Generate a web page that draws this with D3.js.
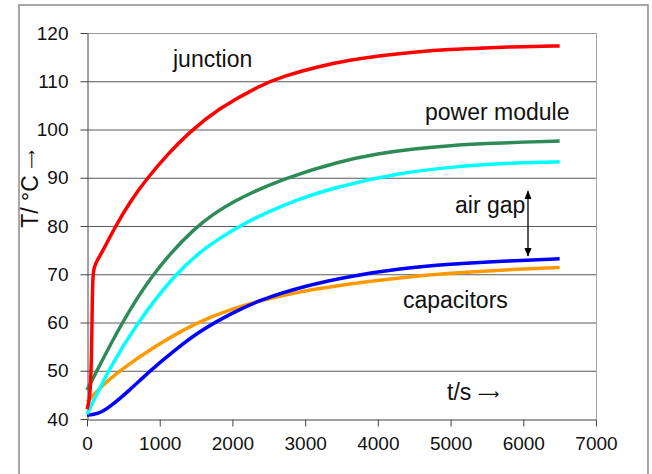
<!DOCTYPE html>
<meta charset="utf-8">
<style>
body { margin: 0; background: #fff; }
svg { font-family: "Liberation Sans", Arial, sans-serif; }
.tick text { font-size: 19px; fill: #111; }
.note { font-size: 23px; fill: #111; }
.arr { font-family: "DejaVu Sans", sans-serif; }
</style>
<body>
<svg width="652" height="474"></svg>
<script src="https://cdn.jsdelivr.net/npm/d3@7"></script>
<script>

// time (s), temperature (°C)
var junction = [[0,42],[40,44],[62,52],[72,64],[80,69.5],[95,71.5],[155,73.3],[224,75],[385,79.8],
  [600,85.2],[821,89.8],[1118,95],[1390,99.2],[1800,104.3],[2400,109.3],[2700,111],[3160,113],
  [3620,114.4],[4070,115.4],[4530,116.1],[4990,116.6],[5450,116.9],[6000,117.2],[6500,117.3]];
var powerModule = [[0,46],[135,50],[480,60],[890,70],[1485,80],[2000,85.2],[2720,90],[3500,93.5],
  [4000,95],[4500,96],[5000,96.7],[5500,97.1],[6000,97.4],[6500,97.6]];
var airGapTop = [[0,41],[100,44],[290,50],[690,60],[1210,70],[1600,75.3],[2080,80],[2700,84.5],
  [3410,88.1],[4300,91],[5000,92.2],[5500,92.8],[6000,93.1],[6500,93.3]];
var capOrange = [[0,43.5],[200,46.8],[450,50],[900,54.8],[1500,60],[2000,62.9],[2500,65],[3000,66.6],
  [3600,68],[4300,69.3],[5000,70.2],[5500,70.7],[6000,71.1],[6500,71.4]];
var capBlue = [[0,40.8],[150,41],[316,42.5],[590,46],[866,50],[1200,54.2],[1555,58.3],[2000,62],
  [2380,64.7],[3000,67.6],[3620,69.6],[4300,71.2],[5000,72.1],[5700,72.7],[6500,73.2]];

var seriesList = [capOrange, capBlue, airGapTop, powerModule, junction];
var seriesColors = ["#ff9900", "#0000ff", "#00ffff", "#2e8b57", "#ff0000"];

var xTicks = [0, 1000, 2000, 3000, 4000, 5000, 6000, 7000];
var yTicks = [40, 50, 60, 70, 80, 90, 100, 110, 120];

var svg = d3.select("svg");

var x = d3.scaleLinear().domain([0, 7000]).range([87, 596]);
var y = d3.scaleLinear().domain([40, 120]).range([419, 33]);

// outer frame
svg.append("rect")
    .attr("x", 19).attr("y", 5)
    .attr("width", 629).attr("height", 480)
    .attr("fill", "none")
    .attr("stroke", "#8a8a8a")
    .attr("stroke-width", 1.5);

// gridlines
svg.append("g")
  .selectAll("line")
    .data(yTicks.slice(1))
  .enter().append("line")
    .attr("x1", x(0)).attr("x2", x(7000))
    .attr("y1", function(d) { return y(d) + 0.5; })
    .attr("y2", function(d) { return y(d) + 0.5; })
    .attr("stroke", function(d) { return d == 120 ? "#9a9a9a" : "#5a5a5a"; })
    .attr("stroke-width", 1);

// right border of plot
svg.append("line")
    .attr("x1", x(7000) + 0.5).attr("x2", x(7000) + 0.5)
    .attr("y1", y(120)).attr("y2", y(40))
    .attr("stroke", "#a8a8a8");

svg.append("g")
    .attr("transform", "translate(0," + (y(40) + 0.5) + ")")
    .call(d3.axisBottom(x).tickValues(xTicks).tickFormat(d3.format("d"))
      .tickSize(7).tickSizeOuter(0).tickPadding(10));

svg.append("g")
    .attr("transform", "translate(" + (x(0) + 0.5) + ",0)")
    .call(d3.axisLeft(y).tickValues(yTicks).tickFormat(d3.format("d"))
      .tickSize(7).tickSizeOuter(0).tickPadding(12));

svg.selectAll(".domain, .tick line").attr("stroke", "#444");

// curves
var line = d3.line()
    .x(function(d) { return x(d[0]); })
    .y(function(d) { return y(d[1]); })
    .curve(d3.curveBasis);

svg.append("g")
  .selectAll("path")
    .data(seriesList)
  .enter().append("path")
    .attr("d", line)
    .attr("fill", "none")
    .attr("stroke", function(d, i) { return seriesColors[i]; })
    .attr("stroke-width", 3.5)
    .attr("stroke-linejoin", "round");

// labels
svg.append("text").attr("class", "note").attr("x", 173).attr("y", 67).text("junction");
svg.append("text").attr("class", "note").attr("x", 425).attr("y", 120).text("power module");
svg.append("text").attr("class", "note").attr("x", 455).attr("y", 213).text("air gap");
svg.append("text").attr("class", "note").attr("x", 403).attr("y", 308).text("capacitors");

var ts = svg.append("text").attr("class", "note").attr("x", 447).attr("y", 400);
ts.append("tspan").text("t/s ");
ts.append("tspan").attr("class", "arr").attr("font-size", "15px").attr("dy", -1).text("\u27f6");

var yl = svg.append("text")
    .attr("class", "note")
    .attr("font-size", "21px")
    .attr("transform", "translate(38,189) rotate(-90)")
    .attr("text-anchor", "middle");
yl.append("tspan").text("T/ \u00b0C ");
yl.append("tspan").attr("class", "arr").attr("font-size", "13px").attr("dy", -2).text("\u27f6");

// air gap double arrow
svg.append("defs").append("marker")
    .attr("id", "head")
    .attr("viewBox", "0 0 10 10")
    .attr("refX", 9).attr("refY", 5)
    .attr("markerWidth", 7).attr("markerHeight", 7)
    .attr("orient", "auto-start-reverse")
  .append("path")
    .attr("d", "M0,1L10,5L0,9Z")
    .attr("fill", "#000");

svg.append("line")
    .attr("x1", 528).attr("x2", 528)
    .attr("y1", y(87.2)).attr("y2", y(73.8))
    .attr("stroke", "#000")
    .attr("stroke-width", 1.3)
    .attr("marker-start", "url(#head)")
    .attr("marker-end", "url(#head)");

</script>
</body>
